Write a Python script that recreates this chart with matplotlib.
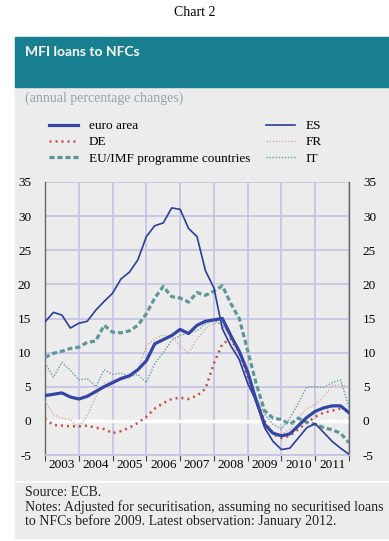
import numpy as np
import matplotlib
matplotlib.use("Agg")
import matplotlib.pyplot as plt
from matplotlib.patches import Rectangle
from matplotlib.lines import Line2D

# quarterly observations, Q1 2003 .. Q1 2012 (annual percentage changes)
quarters = 2003 + np.arange(37) / 4.0

euro_area = [3.7, 3.9, 4.1, 3.5, 3.2, 3.6, 4.3, 5.0, 5.6, 6.2, 6.6, 7.5,
             8.8, 11.3, 11.9, 12.5, 13.4, 12.8, 14.0, 14.6, 14.8, 15.0, 12.5, 10.2,
             7.2, 3.0, -0.5, -1.8, -2.2, -1.9, -0.7, 0.5, 1.4, 1.9, 2.2, 2.2, 1.2]
de = [0.3, -0.6, -0.7, -0.8, -0.8, -0.7, -1.0, -1.2, -1.8, -1.5, -1.0, -0.3,
      0.6, 1.8, 2.6, 3.2, 3.4, 3.2, 3.7, 4.7, 8.4, 11.3, 12.0, 10.0,
      6.5, 3.0, 0.0, -2.0, -2.5, -2.2, -1.2, -0.3, 0.6, 1.2, 1.5, 1.8, 1.5]
eu_imf = [9.3, 9.9, 10.2, 10.6, 10.8, 11.5, 11.7, 14.0, 13.0, 12.9, 13.2, 14.0,
          15.7, 18.0, 19.7, 18.2, 18.0, 17.4, 18.8, 18.4, 19.0, 19.8, 17.2, 15.0,
          10.3, 5.5, 1.5, 0.4, 0.2, -0.5, 0.4, -0.2, -0.5, -1.0, -1.3, -1.8, -3.2]
es = [14.5, 15.9, 15.5, 13.6, 14.3, 14.6, 16.2, 17.5, 18.7, 20.8, 21.8, 23.6,
      27.0, 28.6, 29.0, 31.2, 31.0, 28.2, 27.0, 22.0, 19.5, 13.5, 11.0, 9.0,
      5.5, 2.9, -1.0, -3.0, -4.2, -4.0, -2.5, -1.0, -0.4, -1.7, -3.0, -4.0, -4.9]
fr = [2.9, 0.9, 0.4, 0.2, -1.0, 0.8, 3.5, 5.5, 5.9, 6.0, 6.3, 7.5,
      11.0, 12.0, 12.6, 12.3, 11.0, 9.9, 12.0, 13.5, 14.3, 14.3, 12.0, 9.0,
      6.0, 2.5, -0.5, -1.8, -2.0, -1.2, 0.5, 1.8, 2.4, 3.5, 5.2, 5.3, 5.0]
it = [8.5, 6.4, 8.6, 7.4, 6.0, 6.2, 5.0, 7.5, 6.8, 7.0, 6.5, 6.8,
      5.6, 8.4, 10.0, 11.8, 12.5, 12.9, 13.2, 14.2, 14.7, 14.0, 12.5, 10.5,
      7.0, 3.5, 1.0, -0.5, -1.2, 0.4, 2.6, 5.0, 5.0, 4.9, 5.6, 6.0, 2.0]

years = [2003, 2004, 2005, 2006, 2007, 2008, 2009, 2010, 2011]
yticks = [-5, 0, 5, 10, 15, 20, 25, 30, 35]

plt.rcParams["axes.unicode_minus"] = False

W, H = 389, 541
serif = "Liberation Serif"
panel = "#ececec"

fig = plt.figure(figsize=(W / 100, H / 100), dpi=100)
fig.patch.set_facecolor("white")

def fx(px):
    return px / W

def fy(py):
    return 1 - py / H

# header + grey panel
fig.add_artist(Rectangle((fx(15), fy(538)), fx(389 - 15), (538 - 87) / H,
                         transform=fig.transFigure, color=panel, zorder=0))
fig.add_artist(Rectangle((fx(15), fy(87)), fx(389 - 15), (87 - 37) / H,
                         transform=fig.transFigure, color="#177f8f", zorder=0))
fig.add_artist(Line2D([fx(15), fx(389)], [fy(482), fy(482)],
                      transform=fig.transFigure, color="white", lw=1.2))

fig.text(0.5, fy(13), "Chart 2", ha="center", va="center",
         family=serif, fontsize=10, color="black")
fig.text(fx(25), fy(52), "MFI loans to NFCs", ha="left", va="center",
         family="Lato", fontweight="bold", fontsize=10, color="white")
fig.text(fx(25), fy(98), "(annual percentage changes)", ha="left", va="center",
         family=serif, fontsize=10, color="#93a5a8")

ax = fig.add_axes([fx(45), fy(455), fx(349 - 45), (455 - 182) / H])
ax.set_facecolor(panel)

l_ea, = ax.plot(quarters, euro_area, color="#3346a8", lw=2.3, label="euro area", zorder=6)
l_de, = ax.plot(quarters, de, color="#c2504a", lw=1.8, ls=(0, (0.8, 1.6)), label="DE", zorder=4)
l_eu, = ax.plot(quarters, eu_imf, color="#5c9898", lw=2.3, ls=(0, (1.6, 0.9)),
                label="EU/IMF programme countries", zorder=4)
l_es, = ax.plot(quarters, es, color="#2c3d99", lw=1.2, label="ES", zorder=5)
l_fr, = ax.plot(quarters, fr, color="#d3a09c", lw=0.9, ls=(0, (1, 1.5)), label="FR", zorder=3)
l_it, = ax.plot(quarters, it, color="#6a9c9e", lw=1.0, ls=(0, (1, 1.2)), label="IT", zorder=3)

ax.set_xlim(2003, 2012)
ax.set_ylim(-5, 35)
ax.set_yticks(yticks)
ax.set_xticks(years + [2012])
ax.set_xticklabels([])
ax.set_xticks([y + 0.5 for y in years], minor=True)
ax.set_xticklabels([str(y) for y in years], minor=True, family=serif, fontsize=9.5)
ax.tick_params(axis="x", which="major", direction="out", length=4, width=0.8, color="#444")
ax.tick_params(axis="x", which="minor", length=0, pad=3)
ax.tick_params(axis="y", length=0, pad=10, labelsize=9.5, labelright=True)
for lab in ax.get_yticklabels():
    lab.set_family(serif)

ax.grid(True, which="major", color="#c6c6e6", lw=1.3, zorder=0)
ax.set_axisbelow(True)
ax.axhline(0, color="white", lw=2.5, zorder=1)

for s in ["left", "right"]:
    ax.spines[s].set_color("#666")
    ax.spines[s].set_linewidth(1.0)
ax.spines["top"].set_visible(False)
ax.spines["bottom"].set_color("#c6c6e6")
ax.spines["bottom"].set_linewidth(1.3)

fig.legend(handles=[l_ea, l_de, l_eu, l_es, l_fr, l_it], ncol=2, frameon=False,
           loc="upper left", bbox_to_anchor=(fx(49), fy(120)), borderaxespad=0,
           borderpad=0, prop={"family": serif, "size": 9.5}, handlelength=2.2,
           handletextpad=0.8, columnspacing=1.2, labelspacing=0.3)

fig.text(fx(25), fy(492), "Source: ECB.", ha="left", va="center",
         family=serif, fontsize=10, color="#222")
fig.text(fx(25), fy(507), "Notes: Adjusted for securitisation, assuming no securitised loans",
         ha="left", va="center", family=serif, fontsize=10, color="#222")
fig.text(fx(25), fy(521), "to NFCs before 2009. Latest observation: January 2012.",
         ha="left", va="center", family=serif, fontsize=10, color="#222")

fig.savefig("out.png", dpi=100)
